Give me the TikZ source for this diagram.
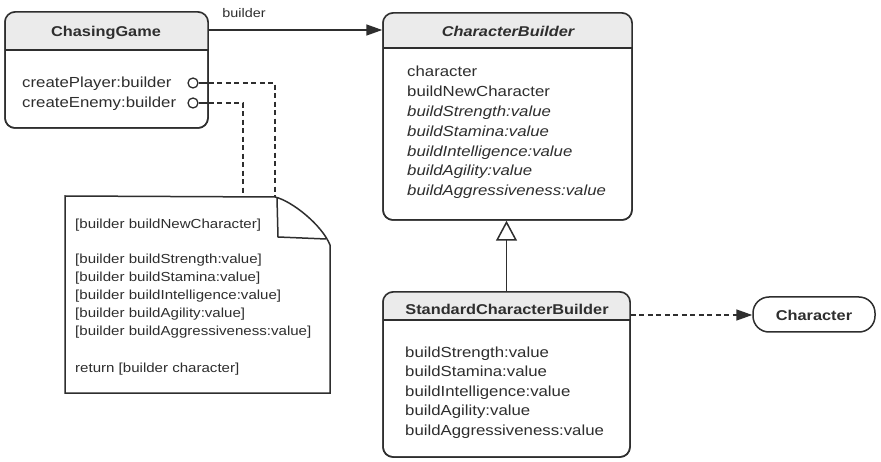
\documentclass[tikz,border=0pt]{standalone}
\usepackage{fontspec}
\setmainfont{Liberation Sans}[FakeStretch=1.15]
\usetikzlibrary{arrows.meta}
\definecolor{ln}{HTML}{2E2E2E}
\definecolor{hdr}{HTML}{EBEBEB}
\begin{document}
\begin{tikzpicture}[x=1pt,y=-1pt,
  box/.style={draw=ln, line width=1.5pt, rounded corners=10pt, inner sep=0},
  conn/.style={draw=ln, line width=1.5pt},
  dsh/.style={draw=ln, line width=1.5pt, dash pattern=on 5pt off 3.5pt},
  ttl/.style={inner sep=0, text=ln, font=\fontsize{14.2}{17}\selectfont\bfseries},
  attr/.style={anchor=base west, inner sep=0, text=ln, font=\fontsize{14.6}{18}\selectfont},
  iattr/.style={attr, font=\fontsize{14.6}{18}\selectfont\itshape},
  ntxt/.style={anchor=base west, inner sep=0, text=ln, font=\fontsize{13.1}{16}\selectfont},
  port/.style={circle, draw=ln, line width=1.3pt, minimum size=10pt, inner sep=0, fill=white},
  head/.style={-{Triangle[length=16pt,width=11pt]}}
]
\useasboundingbox[fill=white] (0,0) rectangle (881,462);

% ---------- ChasingGame
\node[box, minimum width=203pt, minimum height=116pt] (cg) at (106.5,70) {};
\begin{scope}
  \clip[rounded corners=10pt] (cg.north west) rectangle (cg.south east);
  \fill[hdr] (5,12) rectangle (208,50);
\end{scope}
\node[box, minimum width=203pt, minimum height=116pt] (cgb) at (106.5,70) {};
\draw[conn] (5,50) -- (208,50);
\node[ttl] (cgt) at (106,33) {ChasingGame};
\node[attr] (cga1) at (22,87.5) {createPlayer:builder};
\node[attr] (cga2) at (22,107.5) {createEnemy:builder};
\node[port] (c1) at (193,83) {};
\node[port] (c2) at (193,103) {};

% ---------- CharacterBuilder
\node[box, minimum width=249pt, minimum height=207pt] (cb) at (507.5,116.5) {};
\begin{scope}
  \clip[rounded corners=10pt] (cb.north west) rectangle (cb.south east);
  \fill[hdr] (383,13) rectangle (632,48);
\end{scope}
\node[box, minimum width=249pt, minimum height=207pt] (cbb) at (507.5,116.5) {};
\draw[conn] (383,48) -- (632,48);
\node[ttl, font=\fontsize{14.2}{17}\selectfont\bfseries\itshape] (cbt) at (508,31) {CharacterBuilder};
\node[attr] (cb1) at (407,77) {character};
\node[attr] (cb2) at (407,96.8) {buildNewCharacter};
\node[iattr] (cb3) at (407,116.6) {buildStrength:value};
\node[iattr] (cb4) at (407,136.4) {buildStamina:value};
\node[iattr] (cb5) at (407,156.2) {buildIntelligence:value};
\node[iattr] (cb6) at (407,176) {buildAgility:value};
\node[iattr] (cb7) at (407,195.8) {buildAggressiveness:value};

% ---------- StandardCharacterBuilder
\node[box, minimum width=247pt, minimum height=165pt] (scb) at (506.5,374.5) {};
\begin{scope}
  \clip[rounded corners=10pt] (scb.north west) rectangle (scb.south east);
  \fill[hdr] (383,292) rectangle (630,320);
\end{scope}
\node[box, minimum width=247pt, minimum height=165pt] (scbb) at (506.5,374.5) {};
\draw[conn] (383,320) -- (630,320);
\node[ttl] (scbt) at (507,309) {StandardCharacterBuilder};
\node[attr] (s1) at (405,357) {buildStrength:value};
\node[attr] (s2) at (405,376.5) {buildStamina:value};
\node[attr] (s3) at (405,396) {buildIntelligence:value};
\node[attr] (s4) at (405,415.5) {buildAgility:value};
\node[attr] (s5) at (405,435) {buildAggressiveness:value};

% ---------- Character
\node[draw=ln, line width=1.5pt, rounded corners=16pt, minimum width=122pt, minimum height=35pt, inner sep=0] (chr) at (814,314.5) {};
\node[ttl] (chrt) at (814,315) {Character};

% ---------- Note
\coordinate (nt1) at (275,197);
\coordinate (nt2) at (243,196.5);
\draw[conn] (65,196) -- (nt1) .. controls (292,201) and (322,225) .. (330,245) -- (330,393) -- (65,393) -- cycle;
\draw[conn] (277,198) -- (278,237) -- (326,239);
\node[ntxt] (n1) at (75,229) {[builder buildNewCharacter]};
\node[ntxt] (n2) at (75,264) {[builder buildStrength:value]};
\node[ntxt] (n3) at (75,282) {[builder buildStamina:value]};
\node[ntxt] (n4) at (75,300) {[builder buildIntelligence:value]};
\node[ntxt] (n5) at (75,318) {[builder buildAgility:value]};
\node[ntxt] (n6) at (75,336) {[builder buildAggressiveness:value]};
\node[ntxt] (n7) at (75,372) {return [builder character]};

% ---------- connectors
\coordinate (ya) at (0,30);
\draw[conn, head] (cg.east |- ya) -- (cb.west |- ya);
\node[inner sep=0, text=ln, font=\fontsize{12.5}{15}\selectfont] (lbl) at (244,13) {builder};

\draw[conn] (c1.east) -- (cg.east |- c1);
\draw[dsh] (cg.east |- c1) -| (nt1);
\draw[conn] (c2.east) -- (cg.east |- c2);
\draw[dsh] (cg.east |- c2) -| (nt2);

\draw[conn, -{Triangle[open, length=20pt, width=21pt]}] (scb.north) -- (scb.north |- cb.south);

\coordinate (yb) at (0,315);
\draw[dsh, head] (scb.east |- yb) -- (chr.west |- yb);
\end{tikzpicture}
\end{document}
